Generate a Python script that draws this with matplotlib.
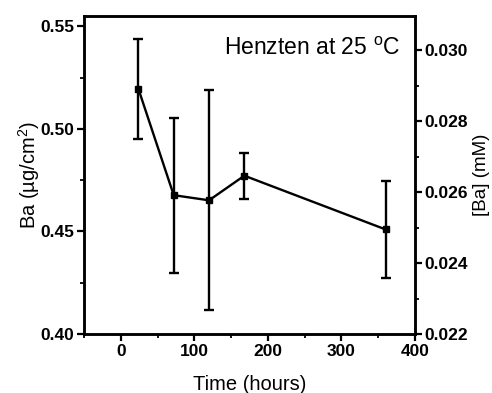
import numpy as np
import matplotlib
matplotlib.use("Agg")
import matplotlib.pyplot as plt
from matplotlib.ticker import MultipleLocator

plt.rcParams['font.family'] = ['Liberation Sans', 'DejaVu Sans']
plt.rcParams['mathtext.fontset'] = 'custom'
plt.rcParams['mathtext.rm'] = 'Liberation Sans'
plt.rcParams['mathtext.it'] = 'Liberation Sans:italic'

# data
time_h = [24, 72, 120, 168, 360]
ba = [0.5195, 0.4677, 0.4652, 0.4772, 0.4510]
ba_err = [0.0243, 0.0378, 0.0536, 0.0112, 0.0238]

fig = plt.figure(figsize=(4.92, 3.93), dpi=100)
ax = fig.add_axes([0.1707, 0.150, 0.6728, 0.809])

ax.errorbar(time_h, ba, yerr=ba_err, color='black', lw=1.7, marker='s',
            ms=5, capsize=3.5, capthick=1.7, elinewidth=1.7)

ax.set_xlim(-50, 400)
ax.set_ylim(0.40, 0.555)
ax.xaxis.set_major_locator(MultipleLocator(100))
ax.xaxis.set_minor_locator(MultipleLocator(50))
ax.yaxis.set_major_locator(MultipleLocator(0.05))
ax.yaxis.set_minor_locator(MultipleLocator(0.025))
ax.set_xlabel("Time (hours)", fontsize=14.5, labelpad=12)
ax.set_ylabel("Ba (\u00b5g/cm$^2$)", fontsize=14.5, labelpad=-1)
ax.text(0.955, 0.935, "Henzten at 25 $^{\\mathrm{o}}$C", transform=ax.transAxes,
        ha='right', va='top', fontsize=16.5)

ax2 = ax.twinx()
ax2.set_ylim(0.022, 0.03096)
ax2.yaxis.set_major_locator(MultipleLocator(0.002))
ax2.yaxis.set_minor_locator(MultipleLocator(0.001))
ax2.set_ylabel("[Ba] (mM)", fontsize=13.5, labelpad=3)

for a in (ax, ax2):
    for s in a.spines.values():
        s.set_linewidth(1.8)
    a.tick_params(which='major', direction='out', length=5, width=1.6,
                  labelsize=12.5, pad=2)
    a.tick_params(which='minor', direction='out', length=3, width=1.3)
    for lab in a.get_xticklabels() + a.get_yticklabels():
        lab.set_fontweight('bold')

fig.savefig("out.png", dpi=100)
